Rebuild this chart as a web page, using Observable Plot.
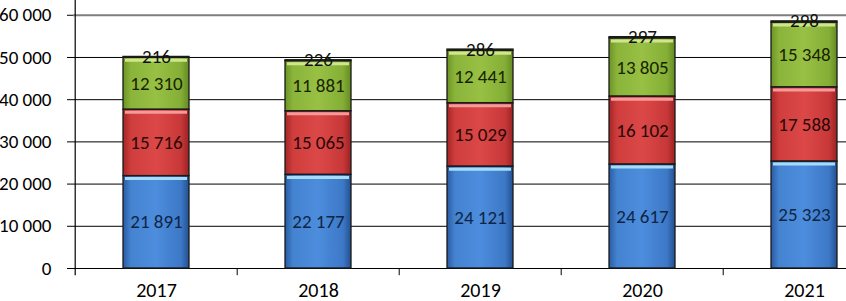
<!DOCTYPE html>
<html><head><meta charset="utf-8">
<script src="https://cdn.jsdelivr.net/npm/d3@7"></script>
<script src="https://cdn.jsdelivr.net/npm/@observablehq/plot@0.6"></script>
<style>
html,body{margin:0;padding:0;background:#fff;overflow:hidden;}
svg{display:block;}
</style>
</head><body><div id="chart"></div>
<script>
const years = ["2017", "2018", "2019", "2020", "2021"];
const seriesNames = ["s1", "s2", "s3", "s4"];
const s1 = [21891, 22177, 24121, 24617, 25323];
const s2 = [15716, 15065, 15029, 16102, 17588];
const s3 = [12310, 11881, 12441, 13805, 15348];
const s4 = [216, 226, 286, 297, 298];
const yTicks = [0, 10000, 20000, 30000, 40000, 50000, 60000];

const values = [s1, s2, s3, s4];
const table = [];
years.forEach((y, i) => values.forEach((arr, k) => table.push({year: y, series: seriesNames[k], value: arr[i]})));

const fmt = v => d3.format(",")(v).replace(/,/g, "\u00a0");
const labelColor = {s1: "#0e2545", s2: "#2a0808", s3: "#172300", s4: "#111"};
const hiColor = {s1: "#a6dcf8", s2: "#f49a9a", s3: "#cfe58e", s4: "none"};
const halfStep = 81.3;
const font = "Carlito, Lato, sans-serif";

const chart = Plot.plot({
  width: 846, height: 301,
  marginLeft: 73, marginRight: 0, marginTop: 0, marginBottom: 33,
  style: {fontFamily: font, fontSize: "19px", color: "#000", background: "#fff", fontWeight: "normal"},
  x: {domain: years, range: [73, 886], paddingInner: 0.594, paddingOuter: 0.297, label: null},
  y: {domain: [0, 63500], label: null},
  color: {domain: seriesNames, range: ["url(#gBlue)", "url(#gRed)", "url(#gGreen)", "#2a2a2a"]},
  marks: [
    Plot.ruleY(yTicks.filter(t => t < 60000), {stroke: "#000", strokeWidth: 1}),
    Plot.ruleY([60000], {stroke: "#7f7f7f", strokeWidth: 2}),
    Plot.axisY({ticks: yTicks, tickFormat: fmt, tickSize: 6, tickPadding: 16, fontSize: 19, fontWeight: "normal", stroke: "#000"}),
    Plot.axisX({tickSize: 0, tickPadding: 14, fontSize: 20, fontWeight: "normal"}),
    Plot.ruleX([years[0]], {dx: -halfStep, y1: -1700, y2: 63500, stroke: "#000", strokeWidth: 1.2}),
    Plot.ruleX(years.slice(1), {dx: -halfStep, y1: 0, y2: -1700, stroke: "#000"}),
    Plot.barY(table, Plot.stackY({x: "year", y: "value", z: "series", fill: "series", order: seriesNames})),
    Plot.tickY(table, Plot.stackY2({x: "year", y: "value", z: "series", order: seriesNames, stroke: d => hiColor[d.series], strokeWidth: 3, dy: 2.5, inset: 2})),
    Plot.barY(table, Plot.stackY({x: "year", y: "value", z: "series", order: seriesNames, fill: "none", stroke: "#1a1a1a", strokeWidth: 1.3})),
    Plot.text(table, Plot.stackY({x: "year", y: "value", z: "series", order: seriesNames,
      text: d => d.series === "s4" ? "" : fmt(d.value), fill: d => labelColor[d.series], fontSize: 19})),
    Plot.text(table, Plot.stackY2({x: "year", y: "value", z: "series", order: seriesNames,
      text: d => d.series === "s4" ? fmt(d.value) : "", fill: "#111", fontSize: 19}))
  ]
});

const defs = `<defs>
<linearGradient id="gBlue" x1="0" x2="1" y1="0" y2="0">
<stop offset="0" stop-color="#2a5ba3"/><stop offset="0.12" stop-color="#4483d0"/><stop offset="0.5" stop-color="#4d8ddd"/><stop offset="0.88" stop-color="#3c78c6"/><stop offset="1" stop-color="#24508f"/></linearGradient>
<linearGradient id="gRed" x1="0" x2="1" y1="0" y2="0">
<stop offset="0" stop-color="#a42626"/><stop offset="0.12" stop-color="#cf3d3d"/><stop offset="0.5" stop-color="#dc4848"/><stop offset="0.88" stop-color="#c83838"/><stop offset="1" stop-color="#9a2222"/></linearGradient>
<linearGradient id="gGreen" x1="0" x2="1" y1="0" y2="0">
<stop offset="0" stop-color="#6c9427"/><stop offset="0.12" stop-color="#8ab43a"/><stop offset="0.5" stop-color="#97c044"/><stop offset="0.88" stop-color="#85ae36"/><stop offset="1" stop-color="#648a22"/></linearGradient>
</defs>`;
chart.insertAdjacentHTML("afterbegin", defs);
document.getElementById("chart").appendChild(chart);
</script>
</body></html>
